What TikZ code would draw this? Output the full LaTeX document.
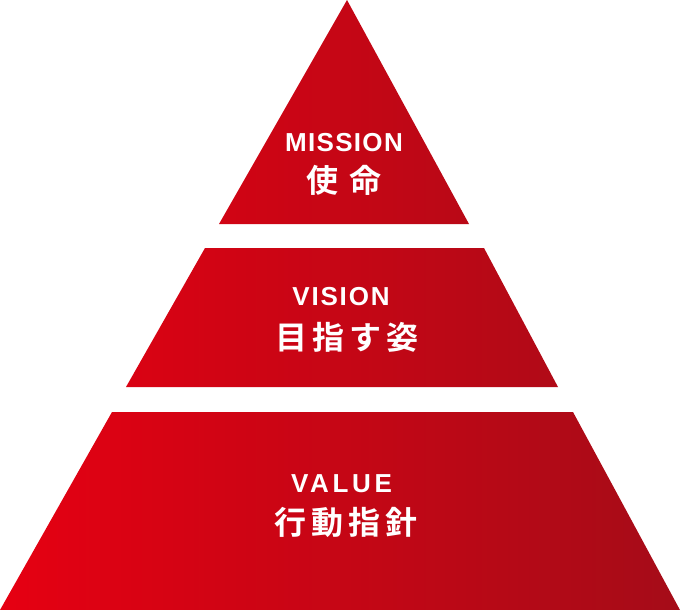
\documentclass[tikz,border=0pt]{standalone}
\usepackage{fontspec}
\setmainfont{Liberation Sans}
\newfontfamily\latinbold[LetterSpace=0]{Liberation Sans Bold}
\newfontfamily\jpbold{Noto Sans CJK JP Bold}
\definecolor{redL}{RGB}{230,0,18}
\definecolor{redR}{RGB}{165,12,24}
\tikzset{
  entxt/.style={text=white, inner sep=0pt, anchor=center, font=\latinbold\fontsize{26}{26}\selectfont},
  jptxt/.style={text=white, inner sep=0pt, anchor=center, font=\jpbold\fontsize{32}{32}\selectfont},
}
\begin{document}
\begin{tikzpicture}[x=1pt,y=-1pt]
\useasboundingbox (0,0) rectangle (680,610);
\shade[left color=redL, right color=redR]
  (347,0) -- (219,224) -- (469,224) -- cycle
  (205,248) -- (484,248) -- (558,387) -- (126,387) -- cycle
  (112,412) -- (573,412) -- (680,610) -- (0,610) -- cycle;
\node[entxt] (mission) at (344,142.5) {\addfontfeature{LetterSpace=5}MISSION};
\node[jptxt] (shimei) at (344,180.5) {\addfontfeature{LetterSpace=36}使命};
\node[entxt] (vision) at (341,297) {\addfontfeature{LetterSpace=7}VISION};
\node[jptxt] (mezasu) at (347,337) {\addfontfeature{LetterSpace=16}目指す姿};
\node[entxt] (value) at (341.5,484) {\addfontfeature{LetterSpace=14}VALUE};
\node[jptxt] (koudou) at (346,522) {\addfontfeature{LetterSpace=16}行動指針};
\end{tikzpicture}
\end{document}
